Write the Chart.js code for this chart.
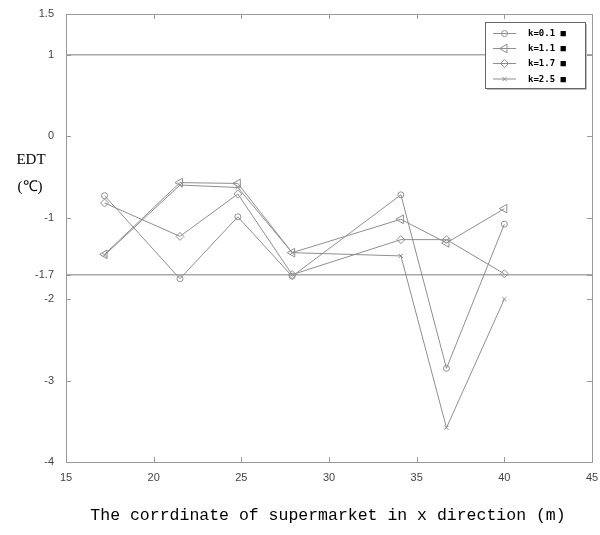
<!DOCTYPE html>
<html>
<head>
<meta charset="utf-8">
<script src="https://cdn.jsdelivr.net/npm/chart.js@4.4.1/dist/chart.umd.min.js"></script>
<style>
  html, body { margin: 0; padding: 0; background: #fff; }
  #wrap { width: 600px; height: 535px; }
</style>
</head>
<body>
<div id="wrap"><canvas id="edt" width="600" height="535"></canvas></div>
<script>
// x coordinate of measuring points (m)
const xCoords = [17.2, 21.5, 24.8, 27.9, 34.1, 36.7, 40];
// EDT per k value
const edtK01 = [-0.73, -1.75, -0.99, -1.72, -0.72, -2.85, -1.08];
const edtK11 = [-1.45, -0.57, -0.58, -1.43, -1.02, -1.31, -0.89];
const edtK17 = [-0.82, -1.23, -0.71, -1.70, -1.27, -1.27, -1.69];
const edtK25 = [-1.46, -0.60, -0.63, -1.43, -1.47, -3.58, -2.00];
const seriesLabels = ['k=0.1 ■', 'k=1.1 ■', 'k=1.7 ■', 'k=2.5 ■'];
// horizontal reference levels
const refLevels = [1, -1.7];
const xTicks = [15, 20, 25, 30, 35, 40, 45];
const yTicks = [1.5, 1, 0, -1, -1.7, -2, -3, -4];

const LINE = '#8e8e8e';
const AXIS = '#9a9a9a';

const markers = [
  { pointStyle: 'circle', radius: 3, rotation: 0 },
  { pointStyle: 'triangle', radius: 5, rotation: -90 },
  { pointStyle: 'rectRot', radius: 4, rotation: 0 },
  { pointStyle: 'crossRot', radius: 3, rotation: 0 }
];

const seriesData = [edtK01, edtK11, edtK17, edtK25];

const datasets = seriesData.map((ys, i) => ({
  label: seriesLabels[i],
  data: ys.map((y, j) => ({ x: xCoords[j], y })),
  borderColor: LINE,
  borderWidth: 1,
  backgroundColor: 'rgba(0,0,0,0)',
  pointBorderColor: LINE,
  pointBorderWidth: 1,
  pointStyle: markers[i].pointStyle,
  pointRadius: markers[i].radius,
  pointRotation: markers[i].rotation,
  tension: 0,
  order: 1
}));

refLevels.forEach(v => {
  datasets.push({
    label: 'ref',
    data: [{ x: xTicks[0], y: v }, { x: xTicks[xTicks.length - 1], y: v }],
    borderColor: '#a8a8a8',
    borderWidth: 1.5,
    pointRadius: 0,
    order: 2
  });
});

// box, inward ticks, titles and legend
const decor = {
  id: 'decor',
  afterDatasetsDraw(chart) {
    const { ctx, chartArea: a, scales } = chart;
    ctx.save();
    ctx.strokeStyle = AXIS;
    ctx.lineWidth = 1;
    ctx.strokeRect(a.left + 0.5, a.top + 0.5, a.right - a.left, a.bottom - a.top);
    ctx.beginPath();
    xTicks.forEach(v => {
      const px = Math.round(scales.x.getPixelForValue(v)) + 0.5;
      ctx.moveTo(px, a.bottom); ctx.lineTo(px, a.bottom - 5);
      ctx.moveTo(px, a.top); ctx.lineTo(px, a.top + 5);
    });
    yTicks.forEach(v => {
      const py = Math.round(scales.y.getPixelForValue(v)) + 0.5;
      ctx.moveTo(a.left, py); ctx.lineTo(a.left + 5, py);
      ctx.moveTo(a.right, py); ctx.lineTo(a.right - 5, py);
    });
    ctx.stroke();

    // axis titles
    ctx.fillStyle = '#000';
    ctx.font = '15px "Liberation Serif"';
    ctx.textAlign = 'center';
    ctx.textBaseline = 'middle';
    ctx.fillText('EDT', 31, 160);
    ctx.fillText('(℃)', 30, 187);
    ctx.font = '16.5px "Liberation Mono"';
    ctx.fillText('The corrdinate of supermarket in x direction (m)', 328, 516);

    // legend
    const lx = 485, ly = 22, lw = 100, lh = 66;
    ctx.fillStyle = '#fff';
    ctx.fillRect(lx, ly, lw, lh);
    ctx.strokeStyle = '#666';
    ctx.strokeRect(lx + 0.5, ly + 0.5, lw, lh);
    ctx.strokeStyle = '#bbb';
    ctx.beginPath();
    ctx.moveTo(lx + lw + 1.5, ly + 2); ctx.lineTo(lx + lw + 1.5, ly + lh + 1.5); ctx.lineTo(lx + 2, ly + lh + 1.5);
    ctx.stroke();
    ctx.textAlign = 'left';
    ctx.font = 'bold 9px "DejaVu Sans Mono"';
    const rows = [33.5, 48.5, 63.5, 79];
    rows.forEach((ry, i) => {
      ctx.strokeStyle = LINE;
      ctx.lineWidth = 1;
      ctx.beginPath();
      ctx.moveTo(lx + 8, ry); ctx.lineTo(lx + 31, ry);
      ctx.stroke();
      ctx.fillStyle = 'rgba(0,0,0,0)';
      Chart.helpers.drawPoint(ctx, {
        pointStyle: markers[i].pointStyle,
        rotation: markers[i].rotation,
        radius: markers[i].radius,
        borderWidth: 1
      }, lx + 19.5, ry);
      ctx.fillStyle = '#000';
      ctx.fillText(seriesLabels[i], lx + 43, ry + 0.5);
    });
    ctx.restore();
  }
};

new Chart(document.getElementById('edt'), {
  type: 'line',
  data: { datasets },
  options: {
    responsive: false,
    animation: false,
    layout: { padding: { top: 14, right: 8, left: 0, bottom: 0 } },
    plugins: { legend: { display: false }, tooltip: { enabled: false } },
    scales: {
      x: {
        type: 'linear',
        min: 15, max: 45,
        afterBuildTicks: s => { s.ticks = xTicks.map(v => ({ value: v })); },
        ticks: { font: { family: 'Liberation Sans', size: 11 }, color: '#444', padding: 1, maxRotation: 0 },
        grid: { display: false },
        border: { display: false },
        afterFit: s => { s.height = 73; s.paddingLeft = 0; s.paddingRight = 0; }
      },
      y: {
        type: 'linear',
        min: -4, max: 1.5,
        afterBuildTicks: s => { s.ticks = yTicks.map(v => ({ value: v })); },
        ticks: { font: { family: 'Liberation Sans', size: 11 }, color: '#444', padding: 4, callback: v => String(v) },
        grid: { display: false },
        border: { display: false },
        afterFit: s => { s.width = 66; s.paddingTop = 0; s.paddingBottom = 0; }
      }
    }
  },
  plugins: [decor]
});
</script>
</body>
</html>
